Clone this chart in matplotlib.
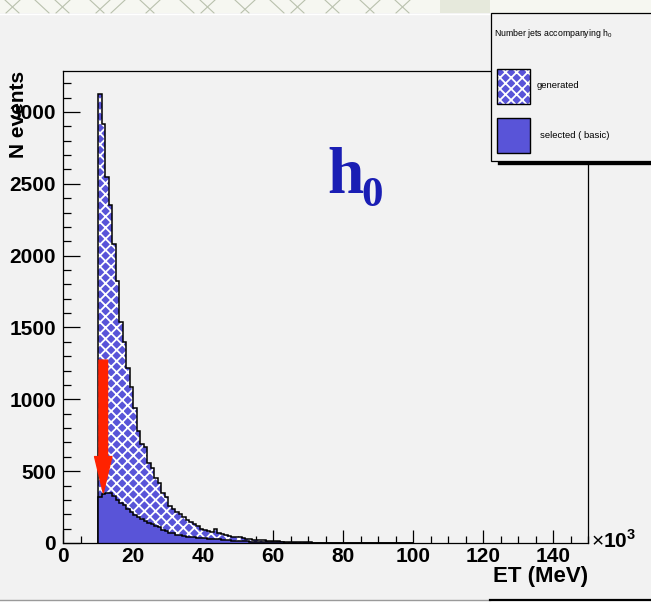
import numpy as np
import matplotlib
matplotlib.use('Agg')
import matplotlib.pyplot as plt
from matplotlib.patches import Rectangle, FancyArrowPatch
from matplotlib.lines import Line2D

plt.rcParams['font.family'] = ['Liberation Sans', 'DejaVu Sans']
plt.rcParams['hatch.linewidth'] = 1.3
plt.rcParams['mathtext.fontset'] = 'custom'
plt.rcParams['mathtext.rm'] = 'Liberation Sans'
plt.rcParams['mathtext.bf'] = 'Liberation Sans:bold'

# ---------------- data ----------------
first_bin = 10          # x10^3 MeV
bin_width = 1
generated = [3125, 2914, 2549, 2352, 2081, 1825, 1540, 1401, 1216, 1083,
             940, 780, 690, 665, 560, 520, 455, 420, 350, 320,
             260, 240, 215, 205, 180, 160, 148, 130, 115, 100,
             92, 85, 75, 95, 70, 65, 55, 50, 45, 40,
             42, 33, 28, 25, 22, 20, 18, 22, 15, 13,
             12, 14, 10, 8, 9, 7, 6, 5, 6, 4,
             4, 3, 3, 2, 3, 2, 2, 1, 2, 1,
             1, 2, 1, 1, 1, 0, 1, 1, 1, 0,
             0, 0, 0, 0, 0, 0, 0, 0, 0, 0]
selected = [322, 340, 345, 350, 330, 300, 275, 262, 235, 215,
            195, 182, 165, 155, 140, 135, 115, 108, 92, 85,
            72, 68, 58, 55, 52, 45, 44, 40, 37, 35,
            32, 30, 28, 30, 25, 23, 20, 18, 16, 15,
            14, 12, 11, 10, 9, 8, 7, 7, 6, 5,
            5, 4, 4, 3, 3, 2, 3, 2, 2, 1,
            1, 1, 1, 0, 1, 0, 1, 0, 0, 1,
            0, 0, 0, 0, 0, 0, 0, 0, 0, 0,
            0, 0, 0, 0, 0, 0, 0, 0, 0, 0]
x_ticks = [0, 20, 40, 60, 80, 100, 120, 140]
y_ticks = [0, 500, 1000, 1500, 2000, 2500, 3000]
x_range = (0, 150)
y_range = (0, 3285)
x_label = 'ET (MeV)'
y_label = 'N events'
legend_title = r'Number jets accompanying h$_{0}$'
legend_labels = ['generated', 'selected ( basic)']
arrow_x = 11.5
arrow_from = 1273
arrow_to = 350

BLUE = '#5954d8'
BG = '#f2f2f2'

W, H = 651, 603
def fx(px):
    return px / W
def fy(py):
    return 1 - py / H

fig = plt.figure(figsize=(W / 100, H / 100), dpi=100, facecolor=BG)
ax = fig.add_axes([fx(63), fy(543), 525 / W, 472 / H])
ax.set_facecolor(BG)

edges = first_bin + bin_width * np.arange(len(generated) + 1)

# generated: hatched
ax.stairs(generated, edges, baseline=0, fill=True, facecolor=BLUE,
          edgecolor='white', hatch='xxx', linewidth=0, zorder=2)
ax.stairs(generated, edges, baseline=0, fill=False, color='black',
          linewidth=1.1, zorder=3)
# selected: solid
ax.stairs(selected, edges, baseline=0, fill=True, facecolor=BLUE,
          edgecolor='none', linewidth=0, zorder=4)
ax.stairs(selected, edges, baseline=0, fill=False, color='black',
          linewidth=1.1, zorder=5)

ax.set_xlim(*x_range)
ax.set_ylim(*y_range)
ax.set_xticks(x_ticks)
ax.set_xticks(np.arange(x_range[0], x_range[1] + 1, 5), minor=True)
ax.set_yticks(y_ticks)
ax.set_yticks(np.arange(0, y_range[1], 100), minor=True)
ax.tick_params(axis='x', which='major', direction='in', length=9.5, width=0.9,
               labelsize=15, pad=3, top=False)
ax.tick_params(axis='x', which='minor', direction='in', length=5, width=0.9, top=False)
ax.tick_params(axis='y', which='major', direction='in', length=12, width=0.9,
               labelsize=15, pad=5, right=False)
ax.tick_params(axis='y', which='minor', direction='in', length=6, width=0.9, right=False)
for lab in ax.get_xticklabels() + ax.get_yticklabels():
    lab.set_fontweight('bold')
for sp in ax.spines.values():
    sp.set_linewidth(0.9)
    sp.set_zorder(6)

ax.text(-0.084, 1.0, y_label, transform=ax.transAxes, rotation=90,
        ha='center', va='top', fontsize=15, fontweight='bold')
ax.text(1.0, -0.048, x_label, transform=ax.transAxes, ha='right', va='top',
        fontsize=16, fontweight='bold')
ax.text(1.006, 0.005, r'$\times\mathbf{10}^{\mathbf{3}}$', transform=ax.transAxes,
        ha='left', va='center', fontsize=15)

# red arrow
arr = FancyArrowPatch((arrow_x, arrow_from), (arrow_x, arrow_to),
                      arrowstyle='simple,head_length=2.6,head_width=1.25,tail_width=0.62',
                      mutation_scale=10, color='#ff2200', shrinkA=0, shrinkB=0,
                      zorder=7, clip_on=False)
ax.add_patch(arr)

# h0 label
fig.text(fx(327), fy(193), 'h', family='Liberation Serif', fontweight='bold',
         fontsize=47, color='#1a1eb4', ha='left', va='baseline')
fig.text(fx(361), fy(206), '0', family='Liberation Serif', fontweight='bold',
         fontsize=31, color='#1a1eb4', ha='left', va='baseline')

# legend box
fig.add_artist(Rectangle((fx(491), fy(161)), (W - 491 + 5) / W, 148 / H,
                         transform=fig.transFigure, facecolor=BG, edgecolor='black',
                         linewidth=0.9, zorder=10))
fig.add_artist(Line2D([fx(499), 1.0], [fy(163), fy(163)], transform=fig.transFigure,
                      color='black', linewidth=2.4, zorder=10))
fig.text(fx(494), fy(33), legend_title, fontsize=6.3, ha='left', va='center', zorder=11)
fig.add_artist(Rectangle((fx(497), fy(104)), 33 / W, 35 / H, transform=fig.transFigure,
                         facecolor=BLUE, edgecolor='white', hatch='xxx', linewidth=0,
                         zorder=11))
fig.add_artist(Rectangle((fx(497), fy(104)), 33 / W, 35 / H, transform=fig.transFigure,
                         fill=False, edgecolor='black', linewidth=1.0, zorder=12))
fig.text(fx(537), fy(85), legend_labels[0], fontsize=6.8, ha='left', va='center', zorder=11)
fig.add_artist(Rectangle((fx(497), fy(153)), 33 / W, 35 / H, transform=fig.transFigure,
                         facecolor=BLUE, edgecolor='black', linewidth=1.0, zorder=11))
fig.text(fx(540), fy(135), legend_labels[1], fontsize=6.8, ha='left', va='center', zorder=11)

# decorative top strip (slide background)
fig.add_artist(Rectangle((0, fy(13)), 1, 13 / H, transform=fig.transFigure,
                         facecolor='#f6f7f1', edgecolor='none', zorder=0.5))
fig.add_artist(Rectangle((fx(440), fy(13)), 50 / W, 13 / H, transform=fig.transFigure,
                         facecolor='#e6e9dc', edgecolor='none', zorder=0.6))
sketch_x = [5, 20, 35, 55, 70, 90, 110, 125, 140, 160, 180, 200, 215, 235, 255, 270,
            290, 305, 325, 340, 360, 380, 395, 410]
sketch_dir = [1, -1, 1, 1, -1, 1, -1, -1, 1, -1, 1, 1, -1, 1, -1, 1, 1, -1, 1, -1, 1, -1, 1, -1]
for sx, sd in zip(sketch_x, sketch_dir):
    fig.add_artist(Line2D([fx(sx), fx(sx + 14 * sd)], [fy(0), fy(13)],
                          transform=fig.transFigure, color='#b9c1ad',
                          linewidth=0.8, zorder=0.7))
fig.add_artist(Line2D([0, fx(490)], [fy(13.5), fy(13.5)], transform=fig.transFigure,
                      color='white', linewidth=1.0, zorder=0.7))

# bottom edge
fig.add_artist(Rectangle((0, 0), 1, 3 / H, transform=fig.transFigure,
                         facecolor='white', edgecolor='none', zorder=0.5))
fig.add_artist(Line2D([0, fx(490)], [fy(599.5), fy(599.5)], transform=fig.transFigure,
                      color='#9a9a9a', linewidth=1.0, zorder=0.7))
fig.add_artist(Line2D([fx(490), 1], [fy(600), fy(600)], transform=fig.transFigure,
                      color='black', linewidth=1.6, zorder=0.7))

fig.savefig('out.png', dpi=100, facecolor=BG)
